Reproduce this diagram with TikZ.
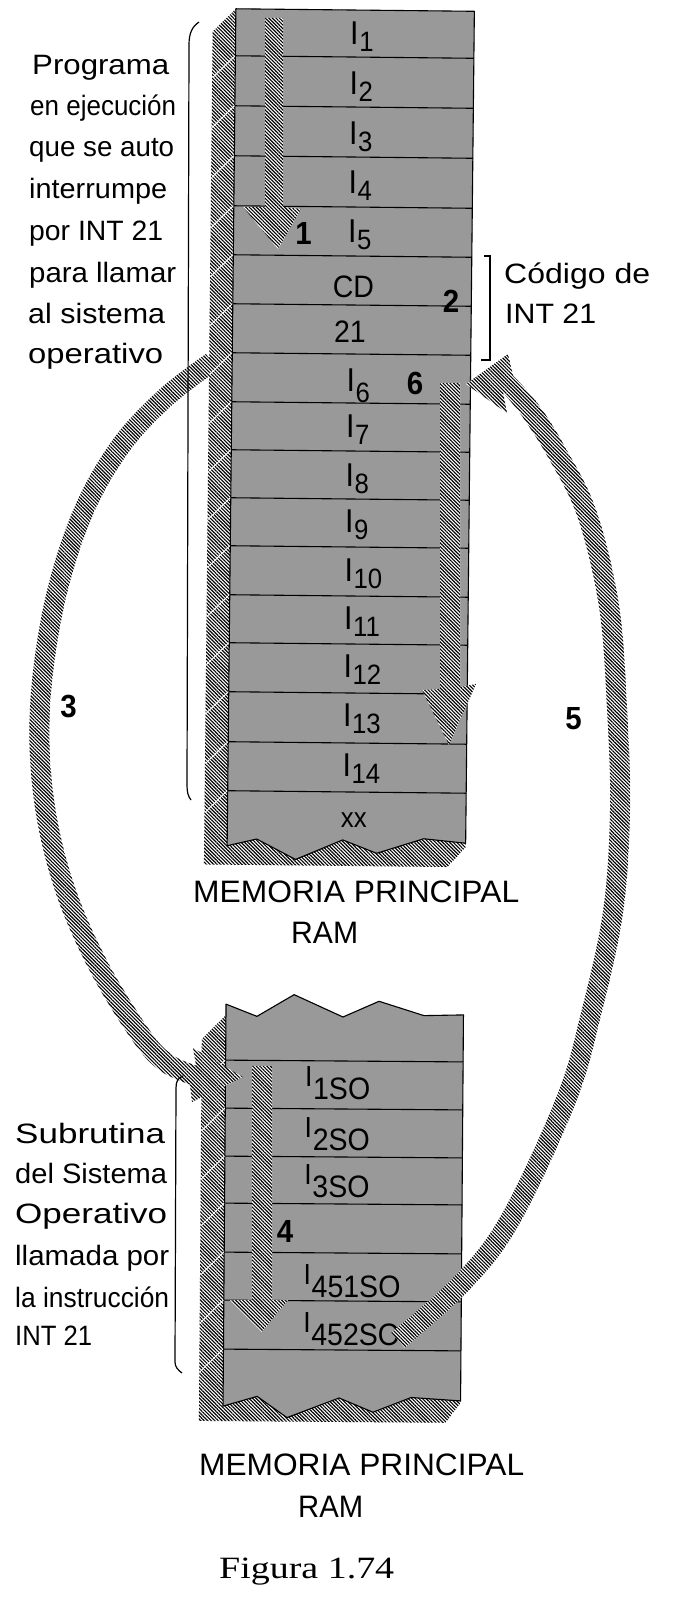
\documentclass[tikz,border=0pt]{standalone}
\usepackage{graphicx}
\usepackage{fontspec}
\setmainfont{Liberation Sans}[FakeStretch=0.92]
\newfontfamily\figfont{Liberation Serif}
\usetikzlibrary{patterns.meta}
\newcommand{\Isub}[2][7]{I\kern0.6pt\lower#1pt\hbox{\fontsize{28}{28}\selectfont #2}}
\newcommand{\Iso}[1]{I\kern0.6pt\lower13pt\hbox{\fontsize{31}{31}\selectfont #1}}
\newcommand{\fitw}[2]{\resizebox{#1pt}{\height}{#2}}
\tikzset{
  colfill/.style={fill=black!40, draw=black, line width=1.1pt, line join=round},
  rowline/.style={draw=black, line width=1.1pt},
  hatchfill/.style={preaction={fill=white}, pattern={Lines[angle=-45,distance=2.5pt,line width=1.15pt]}, pattern color=black},
  sidestreak/.style={draw=white, line width=0.9pt},
  lab/.style={anchor=base west, inner sep=0pt, font=\fontsize{33}{33}\selectfont},
  solab/.style={anchor=base west, inner sep=0pt, font=\fontsize{29}{29}\selectfont},
  clab/.style={anchor=base, inner sep=0pt, font=\fontsize{31}{31}\selectfont},
  txt/.style={anchor=base west, inner sep=0pt, font=\fontsize{28}{28}\selectfont},
  memtxt/.style={anchor=base west, inner sep=0pt, font=\fontsize{31}{31}\selectfont},
  num/.style={inner sep=0pt, font=\fontsize{32}{32}\selectfont\bfseries},
  brace/.style={draw=black, line width=1.2pt}
}
\begin{document}
\begin{tikzpicture}[x=1pt,y=-1pt]
\useasboundingbox (0,0) rectangle (672,1616);
\fill[white] (0,0) rectangle (672,1616);

% ---------- bottom column ----------
\begin{scope}[rotate around={-0.43:(343,1210)}]
  \path[hatchfill] (224.5,1016) -- (200.5,1040) -- (200.5,1422) -- (447,1422) -- (462,1402) -- (462,1016) -- cycle;
  \path[colfill] (224.5,1005) -- (255.5,1017) -- (292.5,995) -- (341.5,1017) -- (377.5,1001) -- (422.5,1015) -- (462,1014)
     -- (462,1400) -- (412.5,1397) -- (374.5,1412) -- (340.5,1398) -- (288.5,1418) -- (258.5,1397) -- (224.5,1407) -- cycle;
  \foreach \y in {1061,1109,1157,1204,1253,1301,1350}{
    \draw[rowline] (224.5,\y) -- (462,\y);
    \draw[sidestreak] (224,\y) -- (201,{\y+23});
  }
  \node[solab] (so1) at (304,1087) {\Iso{1SO}};
  \node[solab] (so2) at (304,1138) {\Iso{2SO}};
  \node[solab] (so3) at (304,1185) {\Iso{3SO}};
  \node[solab] (so451) at (304,1285) {\Iso{451SO}};
  \node[solab] (so452) at (304,1333) {\Iso{452SO}};
\end{scope}

% ---------- arrow 3 ----------
\path[hatchfill] plot[smooth, tension=0.6] coordinates {(205.9,354) (158.2,390.6) (111.8,441.2) (72.8,511.1) (44.2,602.9) (30,707.5) (34.1,801.3) (54.5,889.1) (89.1,969.6) (131.8,1039.7) (158.9,1069.9) (189.9,1084.5)}
  -- (192,1102) -- (243,1077) -- (193,1048)
  -- plot[smooth, tension=0.6] coordinates {(196.1,1065.5) (171.1,1054.1) (148.2,1028.3) (106.9,960.4) (73.5,882.9) (53.9,798.7) (50,708.5) (63.8,607.1) (91.2,518.9) (128.2,452.8) (171.8,405.4) (218.1,370)} -- cycle;

% ---------- top column ----------
\begin{scope}[rotate around={-0.6:(351,428)}]
  \path[hatchfill] (231.5,10) -- (208.5,33) -- (208.5,866) -- (452,866) -- (470,846) -- (470,10) -- cycle;
  \path[colfill] (231.5,10) -- (470,10) -- (470,842) -- (428,838) -- (381,853) -- (347,840) -- (300,860) -- (261,840) -- (231.5,847) -- cycle;
  \foreach \y in {57,107,157,207,256,305,354,403,451,499,547,596,644,693,743,792}{
    \draw[rowline] (231.5,\y) -- (470,\y);
    \draw[sidestreak] (231,\y) -- (209,{\y+22});
  }
  \node[lab] (r1) at (346,45) {\Isub{1}};
  \node[lab] (r2) at (346,95) {\Isub{2}};
  \node[lab] (r3) at (346,145) {\Isub{3}};
  \node[lab] (r4) at (346,194) {\Isub{4}};
  \node[lab] (r5) at (346,243) {\Isub{5}};
  \node[clab] (rcd) at (352,297) {CD};
  \node[clab] (r21) at (349,343) {21};
  \node[lab] (r6) at (346,392) {\Isub[11]{6}};
  \node[lab] (r7) at (346,438) {\Isub{7}};
  \node[lab] (r8) at (346,487) {\Isub{8}};
  \node[lab] (r9) at (346,533) {\Isub{9}};
  \node[lab] (r10) at (346,582) {\Isub{10}};
  \node[lab] (r11) at (346,630) {\Isub{11}};
  \node[lab] (r12) at (346,678) {\Isub{12}};
  \node[lab] (r13) at (346,727) {\Isub{13}};
  \node[lab] (r14) at (346,777) {\Isub{14}};
  \node[clab, font=\fontsize{28}{28}\selectfont] (rxx) at (358,827) {xx};
\end{scope}

% ---------- arrow 5 ----------
\path[hatchfill] plot[smooth, tension=0.6] coordinates {(404.7,1347.5) (469.3,1289.8) (518.7,1225) (575.3,1103.7) (600.7,1016.4) (622.9,913.4) (630,810.2) (627,707.5) (618.9,604.5) (596.4,510.8) (565.7,448.2) (538.1,404.1) (513,375.5)}
  -- (508,354) -- (466,384) -- (507,413)
  -- plot[smooth, tension=0.6] coordinates {(503,392.5) (521.9,415.9) (548.3,457.8) (577.6,517.2) (599.1,607.5) (607,708.5) (610,809.8) (603.1,910.6) (581.3,1011.6) (556.7,1096.3) (501.3,1215) (454.7,1276.2) (391.3,1332.5)} -- cycle;

% ---------- arrows 1, 6, 4 ----------
\path[hatchfill] (265,18) -- (283,18) -- (283,207) -- (301,209) -- (278,249) -- (243,207) -- (265,207) -- cycle;
\path[hatchfill] (440,383) -- (460,383) -- (460,687) -- (476,684) -- (449,745) -- (422,690) -- (440,689) -- cycle;
\path[hatchfill] (252,1066) -- (272,1066) -- (272,1300) -- (288,1300) -- (262,1332) -- (230,1300) -- (252,1300) -- cycle;

% ---------- step numbers ----------
\node[num] (n1) at (303.5,233.5) {1};
\node[num] (n2) at (451,301.5) {2};
\node[num] (n6) at (415,383.5) {6};
\node[num] (n3) at (68.5,706.5) {3};
\node[num] (n5) at (573.5,719) {5};
\node[num] (n4) at (285,1231) {4};

% ---------- braces ----------
\draw[brace] (199,22) .. controls (192,27) and (189,33) .. (189,45) -- (187,785) .. controls (187,792) and (188,796) .. (191,800);
\draw[brace] (484,256) -- (490,256) -- (490,360) -- (481,360);
\draw[brace] (183,1076) .. controls (178,1078) and (176,1081) .. (176,1088) -- (175,1362) .. controls (175,1367) and (178,1370) .. (182,1373);

% ---------- texts ----------
\node[txt] (a1) at (32,75) {\fitw{137}{Programa}};
\node[txt] (a2) at (30,116) {\fitw{146}{en ejecución}};
\node[txt] (a3) at (29,157) {\fitw{145}{que se auto}};
\node[txt] (a4) at (29,199) {\fitw{138}{interrumpe}};
\node[txt] (a5) at (29,240) {\fitw{134}{por INT 21}};
\node[txt] (a6) at (29,282) {\fitw{147}{para llamar}};
\node[txt] (a7) at (28,323) {\fitw{137}{al sistema}};
\node[txt] (a8) at (28,363) {\fitw{135}{operativo}};

\node[txt] (b1) at (504,283) {\fitw{146}{Código de}};
\node[txt] (b2) at (505,323) {\fitw{91}{INT 21}};

\node[txt] (c1) at (15,1143) {\fitw{150}{Subrutina}};
\node[txt] (c2) at (15,1183) {\fitw{152}{del Sistema}};
\node[txt] (c3) at (15,1223) {\fitw{152}{Operativo}};
\node[txt] (c4) at (15,1265) {\fitw{154}{llamada por}};
\node[txt] (c5) at (15,1307) {\fitw{154}{la instrucción}};
\node[txt] (c6) at (15,1345) {\fitw{77}{INT 21}};

\node[memtxt] (m1) at (193,902) {\fitw{326}{MEMORIA PRINCIPAL}};
\node[memtxt] (m2) at (291,943) {\fitw{67}{RAM}};
\node[memtxt] (m3) at (199,1475) {\fitw{325}{MEMORIA PRINCIPAL}};
\node[memtxt] (m4) at (298,1517) {\fitw{65}{RAM}};
\node[anchor=base west, inner sep=0pt, font=\figfont\fontsize{31}{31}\selectfont] (fig) at (219,1578) {\fitw{175}{Figura 1.74}};
\end{tikzpicture}
\end{document}
